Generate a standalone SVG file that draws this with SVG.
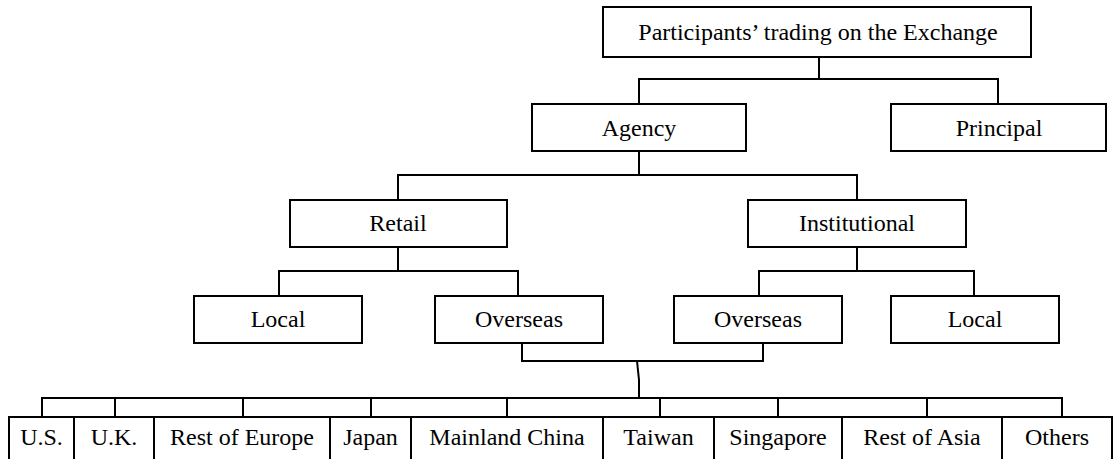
<svg xmlns="http://www.w3.org/2000/svg" width="1115" height="459" viewBox="0 0 1115 459">
<style>
.box{fill:#fff;stroke:#000;stroke-width:2}
text{font-family:'Liberation Serif',Tinos,'Times New Roman',Times,serif;font-size:24px;fill:#000;text-anchor:middle}
.con{fill:none;stroke:#000;stroke-width:2;stroke-linecap:square}
</style>
<rect width="1115" height="459" fill="#fff"/>
<g id="connectors">
<path class="con" d="M819 57V79M639 79H998M639 79V104M998 79V104"/>
<path class="con" d="M639 151V175M398 175H857M398 175V200M857 175V200"/>
<path class="con" d="M398 247V271M279 271H518M279 271V296M518 271V296"/>
<path class="con" d="M857 247V271M759 271H974M759 271V296M974 271V296"/>
<path class="con" d="M522 343V361H763V343M637 361L639 380V398"/>
<path class="con" d="M42 398H1062M42 398V417M115 398V417M243 398V417M371 398V417M507 398V417M660 398V417M778 398V417M927 398V417M1062 398V417"/>
</g>
<g id="n-root"><rect class="box" x="603" y="7" width="428" height="50"/><text font-family="Liberation Serif, serif" x="818" y="40">Participants’ trading on the Exchange</text></g>
<g id="n-agency"><rect class="box" x="532" y="104" width="214" height="47"/><text x="639" y="136">Agency</text></g>
<g id="n-principal"><rect class="box" x="891" y="104" width="215" height="47"/><text x="999" y="136">Principal</text></g>
<g id="n-retail"><rect class="box" x="290" y="200" width="217" height="47"/><text x="398" y="231">Retail</text></g>
<g id="n-institutional"><rect class="box" x="748" y="200" width="218" height="47"/><text x="857" y="231">Institutional</text></g>
<g id="n-local1"><rect class="box" x="194" y="296" width="168" height="47"/><text x="278" y="327">Local</text></g>
<g id="n-overseas1"><rect class="box" x="435" y="296" width="168" height="47"/><text x="519" y="327">Overseas</text></g>
<g id="n-overseas2"><rect class="box" x="674" y="296" width="168" height="47"/><text x="758" y="327">Overseas</text></g>
<g id="n-local2"><rect class="box" x="891" y="296" width="168" height="47"/><text x="975" y="327">Local</text></g>
<g id="n-us"><rect class="box" x="9" y="417" width="65" height="60"/><text x="41.5" y="445">U.S.</text></g>
<g id="n-uk"><rect class="box" x="74" y="417" width="80" height="60"/><text x="114" y="445">U.K.</text></g>
<g id="n-roe"><rect class="box" x="154" y="417" width="176" height="60"/><text x="242" y="445">Rest of Europe</text></g>
<g id="n-japan"><rect class="box" x="330" y="417" width="81" height="60"/><text x="370.5" y="445">Japan</text></g>
<g id="n-china"><rect class="box" x="411" y="417" width="192" height="60"/><text x="507" y="445">Mainland China</text></g>
<g id="n-taiwan"><rect class="box" x="603" y="417" width="111" height="60"/><text x="658.5" y="445">Taiwan</text></g>
<g id="n-singapore"><rect class="box" x="714" y="417" width="128" height="60"/><text x="778" y="445">Singapore</text></g>
<g id="n-roa"><rect class="box" x="842" y="417" width="160" height="60"/><text x="922" y="445">Rest of Asia</text></g>
<g id="n-others"><rect class="box" x="1002" y="417" width="110" height="60"/><text x="1057" y="445">Others</text></g>
</svg>
